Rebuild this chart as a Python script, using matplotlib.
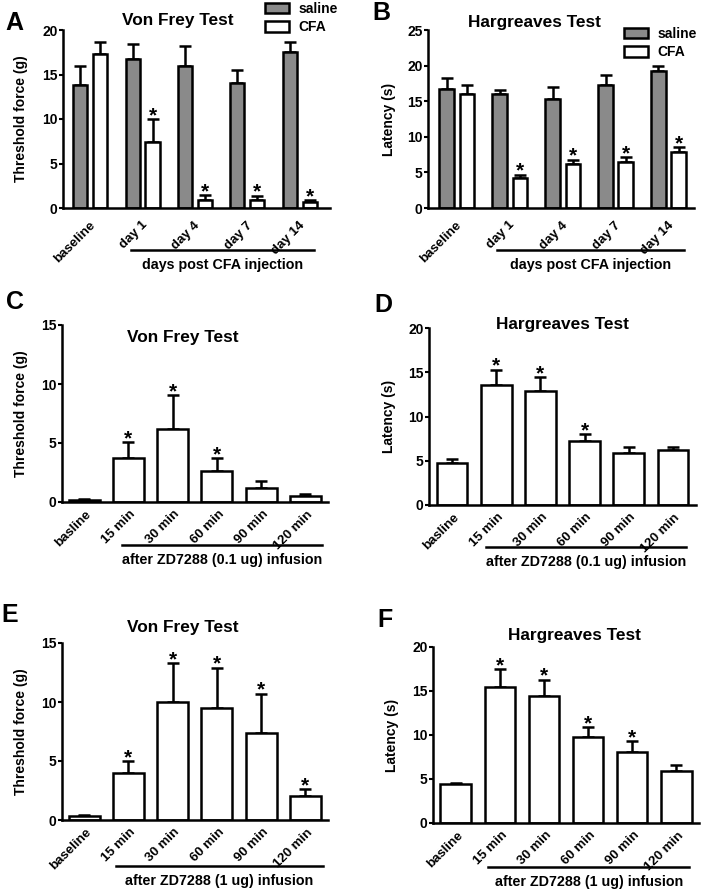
import numpy as np
import matplotlib
matplotlib.use('Agg')
import matplotlib.pyplot as plt
import matplotlib.transforms as mtransforms

plt.rcParams['font.family'] = ['Liberation Sans', 'DejaVu Sans']
plt.rcParams['font.weight'] = 'bold'

# ---- data ----
days = ['baseline', 'day 1', 'day 4', 'day 7', 'day 14']
a_saline = [13.8, 16.7, 16.0, 14.0, 17.5]
a_saline_err = [2.2, 1.7, 2.2, 1.5, 1.1]
a_cfa = [17.3, 7.4, 0.85, 0.85, 0.7]
a_cfa_err = [1.3, 2.6, 0.6, 0.55, 0.15]
a_star = [False, True, True, True, True]

b_saline = [16.7, 16.0, 15.3, 17.3, 19.25]
b_saline_err = [1.5, 0.6, 1.7, 1.4, 0.75]
b_cfa = [16.0, 4.2, 6.2, 6.5, 7.85]
b_cfa_err = [1.3, 0.5, 0.6, 0.6, 0.7]
b_star = [False, True, True, True, True]

times_c = ['basline', '15 min', '30 min', '60 min', '90 min', '120 min']
times_e = ['baseline', '15 min', '30 min', '60 min', '90 min', '120 min']

c_vals = [0.15, 3.7, 6.2, 2.6, 1.2, 0.5]
c_err = [0.1, 1.4, 2.85, 1.1, 0.6, 0.2]
c_star = [False, True, True, True, False, False]

d_vals = [4.8, 13.6, 12.9, 7.2, 5.9, 6.2]
d_err = [0.4, 1.7, 1.55, 0.8, 0.7, 0.4]
d_star = [False, True, True, True, False, False]

e_vals = [0.3, 3.96, 9.96, 9.5, 7.36, 2.0]
e_err = [0.1, 1.05, 3.35, 3.4, 3.35, 0.6]
e_star = [False, True, True, True, True, True]

f_vals = [4.4, 15.5, 14.45, 9.8, 8.04, 5.96]
f_err = [0.2, 2.0, 1.85, 1.1, 1.3, 0.65]
f_star = [False, True, True, True, True, False]

GRAY = '#8a8a8a'
LW = 1.8
W, H = 702, 892

fig = plt.figure(figsize=(W / 100, H / 100), dpi=100)


def px_axes(l, t, r, b):
    return fig.add_axes([l / W, 1 - b / H, (r - l) / W, (b - t) / H])


def style(ax, ymax, ystep, ylabel, labels, xlim, lab_x, xpad, xshift):
    for s in ['top', 'right']:
        ax.spines[s].set_visible(False)
    for s in ['left', 'bottom']:
        ax.spines[s].set_linewidth(LW)
    ax.set_ylim(0, ymax)
    ax.set_yticks(np.arange(0, ymax + 0.1, ystep))
    ax.tick_params(axis='y', direction='out', length=3, width=1.5, pad=1, labelsize=10)
    ax.tick_params(axis='x', length=0, pad=xpad, labelsize=9.5)
    ax.set_xlim(*xlim)
    ax.set_xticks(range(len(labels)))
    ax.set_xticklabels(labels, rotation=45, ha='right', rotation_mode='anchor')
    off = mtransforms.ScaledTranslation(xshift / 100, 0, fig.dpi_scale_trans)
    for lbl in ax.get_xticklabels():
        lbl.set_transform(lbl.get_transform() + off)
    ax.set_ylabel(ylabel, fontsize=10, fontweight='bold')
    ax.yaxis.set_label_coords(lab_x, 0.5)


def stars(ax, x, vals, errs, flags):
    for xi, v, e, f in zip(x, vals, errs, flags):
        if f:
            ax.annotate('*', (xi, v + e), xytext=(0, -1.5), textcoords='offset points',
                        ha='center', va='baseline', fontsize=15, fontweight='bold')


def bracket(ax, x0, x1, y, text):
    tr = mtransforms.blended_transform_factory(ax.transData, ax.transAxes)
    ax.plot([x0, x1], [y, y], color='k', lw=LW, transform=tr, clip_on=False)
    ax.text((x0 + x1) / 2, y - 0.085, text, transform=tr, ha='center', va='center',
            fontsize=10.3, fontweight='bold')


def errs(ax, x, vals, err, cap=4.5):
    ax.errorbar(x, vals, yerr=[np.zeros(len(err)), err], fmt='none', ecolor='k',
                elinewidth=LW, capsize=cap, capthick=LW, zorder=1)


def grouped(ax, sal, sal_e, cfa, cfa_e, flags):
    x = np.arange(len(sal))
    bw, off = 0.27, 0.19
    errs(ax, x - off, sal, sal_e, cap=4.5)
    errs(ax, x + off, cfa, cfa_e, cap=4.5)
    ax.bar(x - off, sal, bw, color=GRAY, edgecolor='k', linewidth=LW, label='saline', zorder=2)
    ax.bar(x + off, cfa, bw, color='white', edgecolor='k', linewidth=LW, label='CFA', zorder=2)
    stars(ax, x + off, cfa, cfa_e, flags)


def single(ax, vals, err, flags):
    x = np.arange(len(vals))
    errs(ax, x, vals, err)
    ax.bar(x, vals, 0.7, color='white', edgecolor='k', linewidth=LW, zorder=2)
    stars(ax, x, vals, err, flags)


def legend(ax, left_px, mid_px):
    ax.legend(loc='center left', bbox_to_anchor=(left_px / W, 1 - mid_px / H),
              bbox_transform=fig.transFigure, frameon=False, borderpad=0,
              borderaxespad=0, handlelength=1.75, handleheight=0.8,
              labelspacing=0.3, handletextpad=0.65,
              prop={'size': 10, 'weight': 'bold'})


def title(ax, x, y, text):
    ax.text(x, y, text, transform=ax.transAxes, ha='center', va='center',
            fontsize=12.4, fontweight='bold')


def letter(x, y, s):
    fig.text(x / W, 1 - y / H, s, ha='center', va='center', fontsize=18, fontweight='bold')


# A
axA = px_axes(63, 30, 330, 208)
grouped(axA, a_saline, a_saline_err, a_cfa, a_cfa_err, a_star)
style(axA, 20, 5, 'Threshold force (g)', days, (-0.52, 4.58), -0.131, 8, -1)
title(axA, 0.43, 1.056, 'Von Frey Test')
bracket(axA, 1 - 0.23, 4 + 0.28, -0.236, 'days post CFA injection')
legend(axA, 265, 18)
letter(14, 23, 'A')

# B
axB = px_axes(428, 30, 694, 208)
grouped(axB, b_saline, b_saline_err, b_cfa, b_cfa_err, b_star)
style(axB, 25, 5, 'Latency (s)', days, (-0.54, 4.48), -0.12, 8, -1)
title(axB, 0.40, 1.04, 'Hargreaves Test')
bracket(axB, 1 - 0.24, 4 + 0.3, -0.236, 'days post CFA injection')
legend(axB, 624, 43)
letter(381, 13, 'B')

# C
axC = px_axes(62, 325, 328, 502)
single(axC, c_vals, c_err, c_star)
style(axC, 15, 5, 'Threshold force (g)', times_c, (-0.5, 5.51), -0.128, 4.5, 1)
title(axC, 0.455, 0.927, 'Von Frey Test')
bracket(axC, 1 - 0.15, 5 + 0.37, -0.243, 'after ZD7288 (0.1 ug) infusion')
letter(15, 302, 'C')

# D
axD = px_axes(429, 328, 696, 505)
single(axD, d_vals, d_err, d_star)
style(axD, 20, 5, 'Latency (s)', times_c, (-0.52, 5.52), -0.124, 4.5, 1)
title(axD, 0.50, 1.017, 'Hargreaves Test')
bracket(axD, 1 - 0.24, 5 + 0.29, -0.237, 'after ZD7288 (0.1 ug) infusion')
letter(383, 305, 'D')

# E
axE = px_axes(62, 643, 328, 820)
single(axE, e_vals, e_err, e_star)
style(axE, 15, 5, 'Threshold force (g)', times_e, (-0.5, 5.51), -0.128, 4.5, 1)
title(axE, 0.455, 1.085, 'Von Frey Test')
bracket(axE, 1 - 0.28, 5 + 0.39, -0.26, 'after ZD7288 (1 ug) infusion')
letter(10, 615, 'E')

# F
axF = px_axes(433, 647, 699, 823)
single(axF, f_vals, f_err, f_star)
style(axF, 20, 5, 'Latency (s)', times_c, (-0.52, 5.52), -0.128, 4.5, 1)
title(axF, 0.53, 1.068, 'Hargreaves Test')
bracket(axF, 1 - 0.26, 5 + 0.29, -0.25, 'after ZD7288 (1 ug) infusion')
letter(385, 620, 'F')

fig.savefig('out.png', dpi=100)
